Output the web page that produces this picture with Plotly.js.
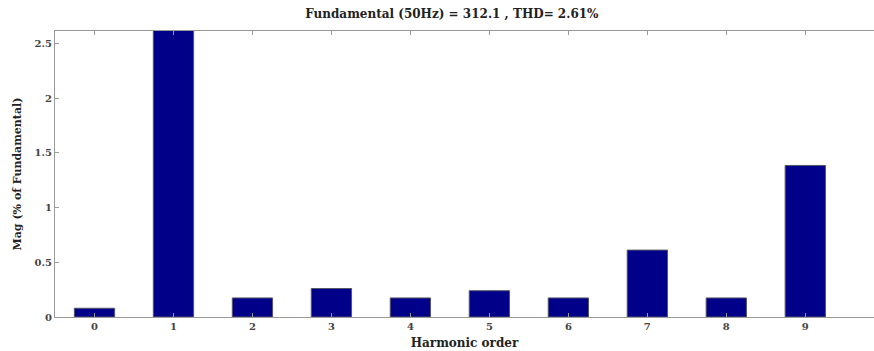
<!DOCTYPE html>
<html>
<head>
<meta charset="utf-8">
<script src="https://cdn.plot.ly/plotly-3.0.1.min.js"></script>
<style>html,body{margin:0;padding:0;background:#fff;}#chart{width:874px;height:351px;}</style>
</head>
<body>
<div id="chart"></div>
<script>
const harmonicOrder = [0, 1, 2, 3, 4, 5, 6, 7, 8, 9];
const magPercent = [0.08, 100, 0.174, 0.26, 0.174, 0.24, 0.174, 0.611, 0.174, 1.384];
const tickLabels = ['0', '1', '2', '3', '4', '5', '6', '7', '8', '9'];
const yTicks = [0, 0.5, 1, 1.5, 2, 2.5];
const yTickLabels = ['0', '0.5', '1', '1.5', '2', '2.5'];

const serif = 'DejaVu Serif, serif';

const trace = {
  type: 'bar',
  x: harmonicOrder,
  y: magPercent,
  width: 0.51,
  marker: {color: '#000088', line: {color: '#555566', width: 1}},
  hoverinfo: 'none'
};

const layout = {
  width: 874, height: 351,
  margin: {l: 55, r: 0, t: 31, b: 34, autoexpand: false},
  paper_bgcolor: '#fff', plot_bgcolor: '#fff',
  showlegend: false,
  title: {
    text: '<b>Fundamental (50Hz) = 312.1 , THD= 2.61%</b>',
    font: {family: serif, size: 12, color: '#222'},
    xref: 'container', x: 0.517, xanchor: 'center', y: 0.962, yanchor: 'middle'
  },
  xaxis: {
    range: [-0.5, 9.87],
    tickmode: 'array', tickvals: harmonicOrder, ticktext: tickLabels,
    ticks: 'inside', ticklen: 4, tickcolor: '#999', tickwidth: 1,
    showline: true, linecolor: '#999', linewidth: 1, mirror: 'ticks',
    showgrid: false, zeroline: false,
    tickfont: {family: serif, size: 10, color: '#444', weight: 'bold'},
    title: {text: '<b>Harmonic order</b>', font: {family: serif, size: 12, color: '#222'}, standoff: 7}
  },
  yaxis: {
    range: [0, 2.612],
    tickmode: 'array', tickvals: yTicks, ticktext: yTickLabels,
    ticks: 'inside', ticklen: 4, tickcolor: '#999', tickwidth: 1,
    showline: true, linecolor: '#999', linewidth: 1, mirror: false,
    showgrid: false, zeroline: false,
    tickfont: {family: serif, size: 10, color: '#444', weight: 'bold'},
    title: {text: '<b>Mag (% of Fundamental)</b>', font: {family: serif, size: 11, color: '#222'}, standoff: 10}
  }
};

Plotly.newPlot('chart', [trace], layout, {staticPlot: true, displayModeBar: false});
</script>
</body>
</html>
